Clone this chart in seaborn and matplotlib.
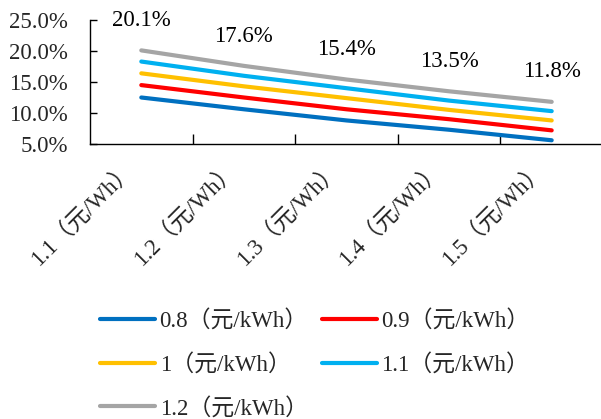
import matplotlib
matplotlib.use("Agg")
import matplotlib.pyplot as plt
import matplotlib.transforms as mtransforms
import seaborn as sns
import pandas as pd
import numpy as np
from matplotlib.ticker import FixedLocator

# ---- data ----
categories = ["1.1（元/Wh）", "1.2（元/Wh）", "1.3（元/Wh）", "1.4（元/Wh）", "1.5（元/Wh）"]
series_names = ["0.8（元/kWh）", "0.9（元/kWh）", "1（元/kWh）", "1.1（元/kWh）", "1.2（元/kWh）"]
s08 = [12.5, 10.6, 8.8, 7.3, 5.6]
s09 = [14.5, 12.5, 10.6, 9.0, 7.2]
s10 = [16.4, 14.3, 12.4, 10.5, 8.8]
s11 = [18.3, 16.0, 14.0, 12.0, 10.3]
s12 = [20.1, 17.6, 15.4, 13.5, 11.8]
colors = ["#0070C0", "#FF0000", "#FFC000", "#00B0F0", "#A5A5A5"]
y_ticks = [5, 10, 15, 20, 25]

all_series = [s08, s09, s10, s11, s12]
rows = []
for name, vals in zip(series_names, all_series):
    for i, (c, v) in enumerate(zip(categories, vals)):
        rows.append({"pos": i, "cat": c, "series": name, "value": v})
df = pd.DataFrame(rows)

sns.set_theme(style="white")
plt.rcParams["font.family"] = ["Liberation Serif", "Noto Sans CJK SC", "DejaVu Sans"]

FS = 16.5
fig = plt.figure(figsize=(6.01, 4.19), dpi=100)
ax = fig.add_axes([90 / 601, 1 - 144 / 419, 513 / 601, 124 / 419])

sns.lineplot(data=df, x="pos", y="value", hue="series", hue_order=series_names,
             palette=colors, linewidth=3, ax=ax, legend=True)

# data labels on the top series
for i, v in enumerate(s12):
    ax.annotate(f"{v:.1f}%", xy=(i, v), xytext=(0, 21.5), textcoords="offset points",
                ha="center", va="center", fontsize=FS, color="black")

ax.set_xlim(-0.5, 4.5)
ax.set_ylim(5, 25)
ax.set_yticks(y_ticks)
ax.set_yticklabels([f"{t:.1f}%" for t in y_ticks], fontsize=FS)
ax.set_xticks(range(len(categories)))
ax.set_xticklabels(categories, rotation=45, ha="right", rotation_mode="anchor", fontsize=FS)
ax.xaxis.set_minor_locator(FixedLocator([0.5, 1.5, 2.5, 3.5]))
ax.tick_params(axis="x", which="major", length=0, pad=10)
ax.tick_params(axis="x", which="minor", direction="in", length=7, width=1, color="black", bottom=True)
ax.tick_params(axis="y", which="major", direction="in", length=5, width=1, color="black", left=True, pad=16)
offset = mtransforms.ScaledTranslation(-18 / 100, 0 / 100, fig.dpi_scale_trans)
for lbl in ax.get_xticklabels():
    lbl.set_transform(lbl.get_transform() + offset)
ax.set_xlabel("")
ax.set_ylabel("")
for s in ["top", "right"]:
    ax.spines[s].set_visible(False)
for s in ["left", "bottom"]:
    ax.spines[s].set_color("black")
    ax.spines[s].set_linewidth(1)

handles, labels = ax.get_legend_handles_labels()
ax.get_legend().remove()
order = [0, 2, 4, 1, 3]
fig.legend([handles[i] for i in order], [labels[i] for i in order], ncol=2, loc="upper left",
           bbox_to_anchor=(100 / 601, 1 - 310 / 419),
           frameon=False, fontsize=FS, handlelength=2.4, handletextpad=0.2,
           columnspacing=0.6, labelspacing=0.95, borderpad=0, borderaxespad=0)

fig.savefig("out.png", dpi=100)
